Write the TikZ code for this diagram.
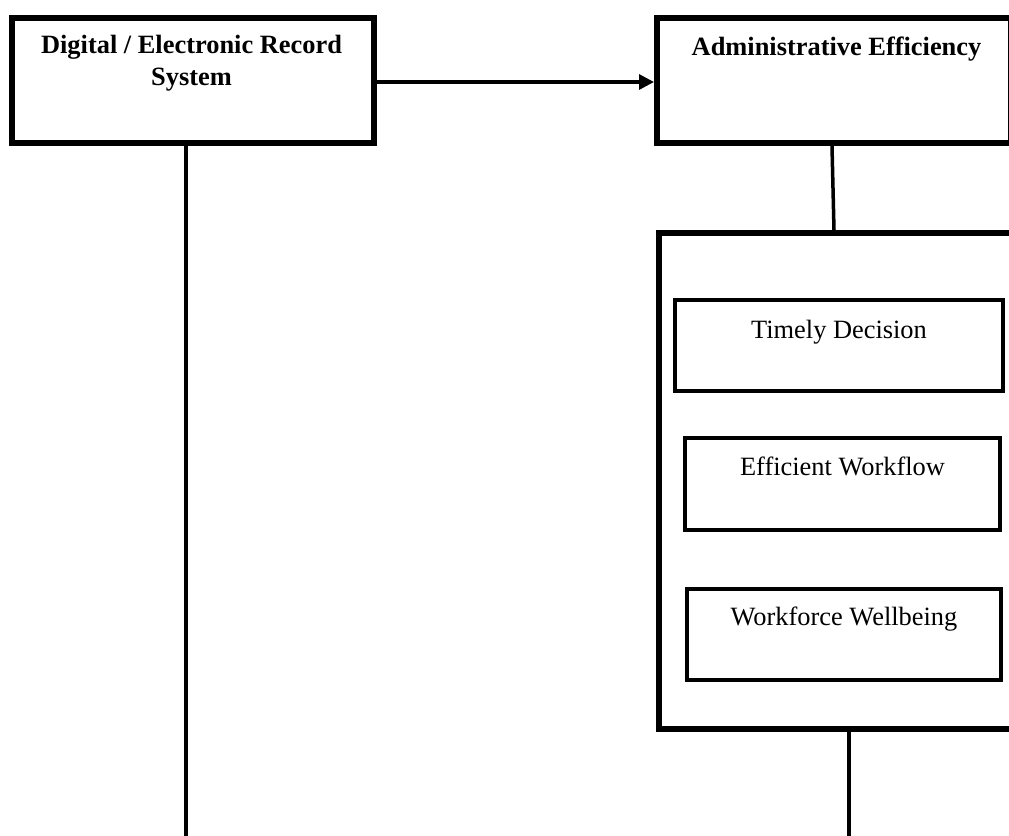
\documentclass[tikz,border=0pt]{standalone}
\usepackage{fontspec}
\setmainfont{Liberation Serif}
\usetikzlibrary{arrows.meta, positioning}

\begin{document}
\begin{tikzpicture}[
    x=0.5pt, y=-0.5pt,
    font=\fontsize{13.2}{16}\selectfont,
    block/.style={rectangle, draw, line width=3pt, minimum height=62.5pt, inner sep=0pt},
    group_block/.style={rectangle, draw, line width=3pt, inner sep=0pt},
    sub_block/.style={rectangle, draw, line width=2pt, minimum height=45.5pt, inner sep=0pt},
    title/.style={anchor=base, align=center, font=\fontsize{13.2}{16}\selectfont\bfseries, inner sep=0pt},
    caption/.style={anchor=base, inner sep=0pt},
    arrow/.style={-{Triangle[length=7.5pt, width=7.5pt]}, line width=1.6pt},
    link/.style={line width=1.75pt}
]
    \useasboundingbox (0,0) rectangle (1009,836);
    \clip (0,0) rectangle (1009,836);

    % Top row
    \node[block, minimum width=181pt] (digital) at (193,80.5) {};
    \node[block, minimum width=177pt] (admin) at (834,80.5) {};
    \node[title] (digital_text) at ([xshift=-0.75pt, yshift=-35pt]digital.north) {Digital / Electronic Record\\System};
    \node[title] (admin_text) at ([xshift=1.25pt, yshift=-20pt]admin.north) {Administrative Efficiency};

    \draw[arrow] ([yshift=-0.75pt]digital.east) -- ([yshift=-0.75pt]admin.west);

    % Efficiency outcomes
    \node[group_block, minimum width=180.5pt, minimum height=248pt] (outcomes) at (839.5,481) {};
    \node[sub_block, minimum width=164pt] (decision) at (839,345.5) {};
    \node[sub_block, minimum width=157.5pt, minimum height=46pt] (workflow) at (842.5,484) {};
    \node[sub_block, minimum width=157pt] (wellbeing) at (844,634.5) {};
    \node[caption] (decision_text) at ([yshift=-20pt]decision.north) {Timely Decision};
    \node[caption] (workflow_text) at ([yshift=-19.5pt]workflow.north) {Efficient Workflow};
    \node[caption] (wellbeing_text) at ([yshift=-19pt]wellbeing.north) {Workforce Wellbeing};

    % Connectors
    \coordinate (admin_out) at (832,0);
    \coordinate (outcomes_in) at (834,0);
    \coordinate (digital_end) at (186,836);
    \coordinate (outcomes_end) at (849,836);
    \draw[link] (admin_out |- admin.south) -- (outcomes_in |- outcomes.north);
    \draw[link] (digital_end |- digital.south) -- (digital_end);
    \draw[link] (outcomes_end |- outcomes.south) -- (outcomes_end);

\end{tikzpicture}
\end{document}
